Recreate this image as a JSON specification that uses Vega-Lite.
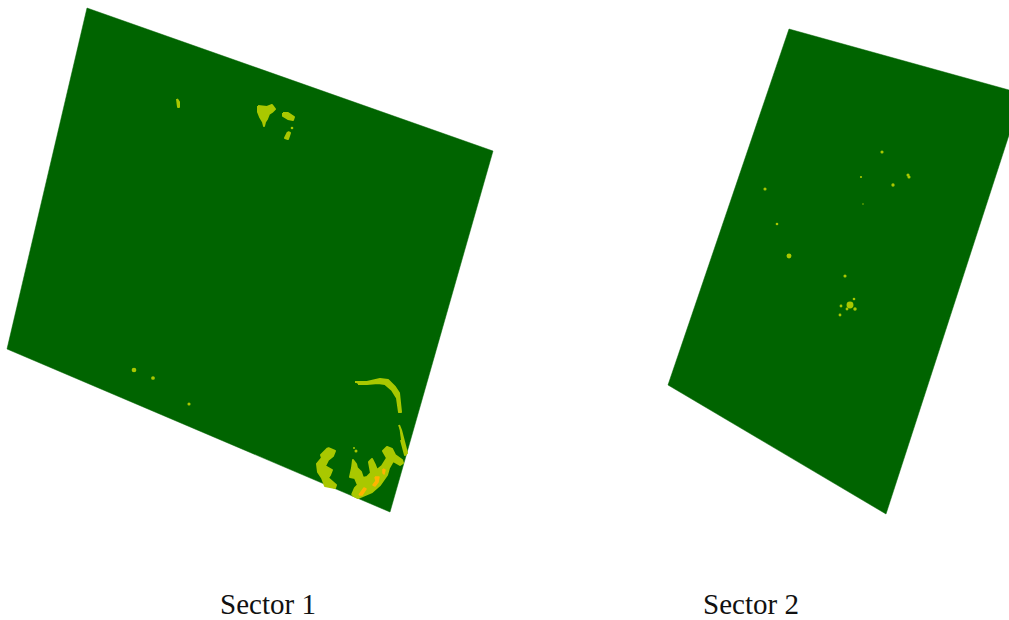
{"$schema":"https://vega.github.io/schema/vega-lite/v6.json","autosize":{"type":"fit","contains":"padding"},"width":1009,"height":620,"padding":0,"background":"white","view":{"stroke":null},
"datasets":{
"zones":[
{"s":"a","c":"forest","o":1,"x":87,"y":8},{"s":"a","c":"forest","o":2,"x":493,"y":151},{"s":"a","c":"forest","o":3,"x":390,"y":512},{"s":"a","c":"forest","o":4,"x":7,"y":349},{"s":"a","c":"forest","o":5,"x":87,"y":8},
{"s":"b","c":"forest","o":1,"x":789,"y":29},{"s":"b","c":"forest","o":2,"x":1009,"y":90},{"s":"b","c":"forest","o":3,"x":1009,"y":135},{"s":"b","c":"forest","o":4,"x":886,"y":514},{"s":"b","c":"forest","o":5,"x":668,"y":385},{"s":"b","c":"forest","o":6,"x":789,"y":29},
{"s":"c","c":"mid","o":1,"x":355,"y":382},{"s":"c","c":"mid","o":2,"x":367,"y":382},{"s":"c","c":"mid","o":3,"x":380,"y":379},{"s":"c","c":"mid","o":4,"x":388,"y":380},{"s":"c","c":"mid","o":5,"x":395,"y":387},{"s":"c","c":"mid","o":6,"x":399,"y":393},{"s":"c","c":"mid","o":7,"x":401,"y":412},{"s":"c","c":"mid","o":8,"x":399,"y":412},{"s":"c","c":"mid","o":9,"x":397,"y":398},{"s":"c","c":"mid","o":10,"x":392,"y":390},{"s":"c","c":"mid","o":11,"x":385,"y":384},{"s":"c","c":"mid","o":12,"x":378,"y":383},{"s":"c","c":"mid","o":13,"x":367,"y":384},{"s":"c","c":"mid","o":14,"x":358,"y":384},
{"s":"d","c":"mid","o":1,"x":399,"y":425},{"s":"d","c":"mid","o":2,"x":401,"y":430},{"s":"d","c":"mid","o":3,"x":407,"y":453},{"s":"d","c":"mid","o":4,"x":405,"y":455},{"s":"d","c":"mid","o":5,"x":401,"y":440},
{"s":"e","c":"mid","o":1,"x":328,"y":448},{"s":"e","c":"mid","o":2,"x":335,"y":451},{"s":"e","c":"mid","o":3,"x":333,"y":456},{"s":"e","c":"mid","o":4,"x":328,"y":460},{"s":"e","c":"mid","o":5,"x":325,"y":466},{"s":"e","c":"mid","o":6,"x":332,"y":470},{"s":"e","c":"mid","o":7,"x":330,"y":475},{"s":"e","c":"mid","o":8,"x":328,"y":478},{"s":"e","c":"mid","o":9,"x":336,"y":485},{"s":"e","c":"mid","o":10,"x":335,"y":488},{"s":"e","c":"mid","o":11,"x":325,"y":486},{"s":"e","c":"mid","o":12,"x":322,"y":478},{"s":"e","c":"mid","o":13,"x":318,"y":472},{"s":"e","c":"mid","o":14,"x":317,"y":464},{"s":"e","c":"mid","o":15,"x":322,"y":458},{"s":"e","c":"mid","o":16,"x":321,"y":455},{"s":"e","c":"mid","o":17,"x":328,"y":448},
{"s":"f","c":"mid","o":1,"x":352,"y":495},{"s":"f","c":"mid","o":2,"x":355,"y":488},{"s":"f","c":"mid","o":3,"x":358,"y":485},{"s":"f","c":"mid","o":4,"x":355,"y":478},{"s":"f","c":"mid","o":5,"x":350,"y":477},{"s":"f","c":"mid","o":6,"x":352,"y":468},{"s":"f","c":"mid","o":7,"x":353,"y":460},{"s":"f","c":"mid","o":8,"x":356,"y":464},{"s":"f","c":"mid","o":9,"x":357,"y":468},{"s":"f","c":"mid","o":10,"x":361,"y":472},{"s":"f","c":"mid","o":11,"x":363,"y":478},{"s":"f","c":"mid","o":12,"x":367,"y":477},{"s":"f","c":"mid","o":13,"x":371,"y":473},{"s":"f","c":"mid","o":14,"x":369,"y":462},{"s":"f","c":"mid","o":15,"x":372,"y":459},{"s":"f","c":"mid","o":16,"x":375,"y":465},{"s":"f","c":"mid","o":17,"x":377,"y":470},{"s":"f","c":"mid","o":18,"x":382,"y":466},{"s":"f","c":"mid","o":19,"x":387,"y":458},{"s":"f","c":"mid","o":20,"x":383,"y":451},{"s":"f","c":"mid","o":21,"x":387,"y":447},{"s":"f","c":"mid","o":22,"x":392,"y":449},{"s":"f","c":"mid","o":23,"x":395,"y":455},{"s":"f","c":"mid","o":24,"x":402,"y":460},{"s":"f","c":"mid","o":25,"x":403,"y":463},{"s":"f","c":"mid","o":26,"x":400,"y":465},{"s":"f","c":"mid","o":27,"x":393,"y":461},{"s":"f","c":"mid","o":28,"x":389,"y":468},{"s":"f","c":"mid","o":29,"x":387,"y":475},{"s":"f","c":"mid","o":30,"x":380,"y":485},{"s":"f","c":"mid","o":31,"x":372,"y":492},{"s":"f","c":"mid","o":32,"x":365,"y":495},{"s":"f","c":"mid","o":33,"x":358,"y":498},{"s":"f","c":"mid","o":34,"x":352,"y":495},
{"s":"g","c":"mid","o":1,"x":258,"y":106},{"s":"g","c":"mid","o":2,"x":267,"y":107},{"s":"g","c":"mid","o":3,"x":272,"y":105},{"s":"g","c":"mid","o":4,"x":275,"y":109},{"s":"g","c":"mid","o":5,"x":272,"y":112},{"s":"g","c":"mid","o":6,"x":269,"y":114},{"s":"g","c":"mid","o":7,"x":267,"y":119},{"s":"g","c":"mid","o":8,"x":265,"y":122},{"s":"g","c":"mid","o":9,"x":264,"y":126},{"s":"g","c":"mid","o":10,"x":263,"y":122},{"s":"g","c":"mid","o":11,"x":260,"y":117},{"s":"g","c":"mid","o":12,"x":258,"y":112},{"s":"g","c":"mid","o":13,"x":258,"y":106},
{"s":"h","c":"mid","o":1,"x":283,"y":113},{"s":"h","c":"mid","o":2,"x":288,"y":113},{"s":"h","c":"mid","o":3,"x":294,"y":117},{"s":"h","c":"mid","o":4,"x":293,"y":120},{"s":"h","c":"mid","o":5,"x":288,"y":119},{"s":"h","c":"mid","o":6,"x":283,"y":116},{"s":"h","c":"mid","o":7,"x":283,"y":113},
{"s":"i","c":"mid","o":1,"x":288,"y":132},{"s":"i","c":"mid","o":2,"x":290,"y":133},{"s":"i","c":"mid","o":3,"x":288,"y":139},{"s":"i","c":"mid","o":4,"x":285,"y":138},{"s":"i","c":"mid","o":5,"x":288,"y":132},
{"s":"j","c":"mid","o":1,"x":177,"y":99},{"s":"j","c":"mid","o":2,"x":179,"y":102},{"s":"j","c":"mid","o":3,"x":179,"y":107},{"s":"j","c":"mid","o":4,"x":178,"y":107},{"s":"j","c":"mid","o":5,"x":177,"y":99},
{"s":"k","c":"high","o":1,"x":359,"y":495},{"s":"k","c":"high","o":2,"x":364,"y":488},{"s":"k","c":"high","o":3,"x":366,"y":489},{"s":"k","c":"high","o":4,"x":362,"y":495},{"s":"k","c":"high","o":5,"x":359,"y":495},
{"s":"l","c":"high","o":1,"x":375,"y":477},{"s":"l","c":"high","o":2,"x":379,"y":477},{"s":"l","c":"high","o":3,"x":378,"y":482},{"s":"l","c":"high","o":4,"x":375,"y":486},{"s":"l","c":"high","o":5,"x":373,"y":485},{"s":"l","c":"high","o":6,"x":376,"y":481},{"s":"l","c":"high","o":7,"x":375,"y":477},
{"s":"m","c":"high","o":1,"x":383,"y":469},{"s":"m","c":"high","o":2,"x":385,"y":470},{"s":"m","c":"high","o":3,"x":384,"y":474},{"s":"m","c":"high","o":4,"x":383,"y":473},{"s":"m","c":"high","o":5,"x":383,"y":469}
],
"specks":[
{"x":356,"y":451,"a":9},{"x":354,"y":448,"a":4},{"x":292,"y":128,"a":7},{"x":134,"y":370,"a":22},{"x":153,"y":378,"a":14},{"x":189,"y":404,"a":10},
{"x":882,"y":152,"a":10},{"x":861,"y":177,"a":5},{"x":908,"y":175,"a":10},{"x":909,"y":177,"a":10},{"x":893,"y":185,"a":11},{"x":863,"y":204,"a":2},{"x":765,"y":189,"a":10},{"x":777,"y":224,"a":7},{"x":789,"y":256,"a":24},{"x":845,"y":276,"a":10},{"x":854,"y":299,"a":7},{"x":841,"y":306,"a":8},{"x":850,"y":305,"a":48},{"x":847,"y":309,"a":8},{"x":855,"y":309,"a":12},{"x":840,"y":315,"a":8}
],
"labels":[{"x":268,"y":605,"t":"Sector 1"},{"x":751,"y":605,"t":"Sector 2"}]
},
"encoding":{
"x":{"field":"x","type":"quantitative","scale":{"domain":[0,1009],"nice":false,"zero":false},"axis":null},
"y":{"field":"y","type":"quantitative","scale":{"domain":[620,0],"nice":false,"zero":false},"axis":null}
},
"layer":[
{"data":{"name":"zones"},"transform":[{"filter":"datum.c==='forest'"}],"mark":{"type":"line","fill":"#006400","stroke":"#006400","strokeWidth":0.5,"clip":true},"encoding":{"detail":{"field":"s"},"order":{"field":"o","type":"quantitative"}}},
{"data":{"name":"zones"},"transform":[{"filter":"datum.c==='mid'"}],"mark":{"type":"line","fill":"#A9C800","stroke":"#A9C800","strokeWidth":2,"strokeJoin":"round","clip":true},"encoding":{"detail":{"field":"s"},"order":{"field":"o","type":"quantitative"}}},
{"data":{"name":"zones"},"transform":[{"filter":"datum.c==='high'"}],"mark":{"type":"line","fill":"#FFB400","stroke":"#FFB400","strokeWidth":1.5,"strokeJoin":"round","clip":true},"encoding":{"detail":{"field":"s"},"order":{"field":"o","type":"quantitative"}}},
{"data":{"name":"specks"},"mark":{"type":"circle","color":"#A9C800","opacity":1},"encoding":{"size":{"field":"a","type":"quantitative","scale":null,"legend":null}}},
{"data":{"name":"labels"},"mark":{"type":"text","font":"Liberation Serif","fontSize":29,"color":"#111111","baseline":"middle","align":"center"},"encoding":{"text":{"field":"t"}}}
]}
